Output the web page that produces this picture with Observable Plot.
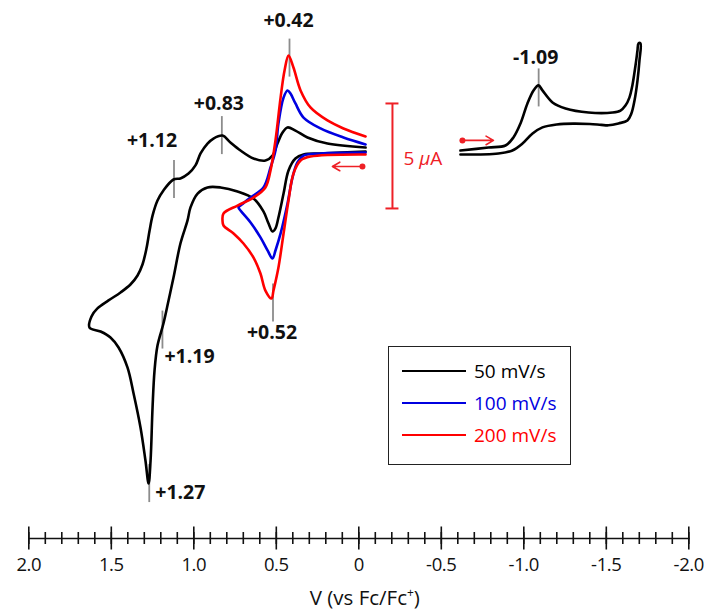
<!DOCTYPE html>
<html><head><meta charset="utf-8">
<script src="https://cdn.jsdelivr.net/npm/d3@7"></script>
<script src="https://cdn.jsdelivr.net/npm/@observablehq/plot@0.6"></script>
<style>
body{margin:0;background:#fff;}
#wrap{position:relative;width:704px;height:615px;font-family:"Open Sans",sans-serif;}
#legend{position:absolute;left:388px;top:346px;width:183px;height:119px;border:1.5px solid #222;box-sizing:border-box;background:#fff;}
.row{position:absolute;left:13px;height:24px;display:flex;align-items:center;font-size:19px;white-space:nowrap;}
.row .sw{display:inline-block;width:64px;height:2px;margin-right:8px;}
.ticklab text{letter-spacing:-0.4px;}
</style></head><body><div id="wrap"></div>
<script>
// ---- data (potential V vs Fc/Fc+, current µA) ----
const seriesNames = ["50 mV/s", "100 mV/s", "200 mV/s"];
const seriesColors = ["#000000", "#0000e0", "#ff0000"];

// 50 mV/s wide scan (0 → +1.63 V → back)
const scan50 = [[-0.041,0.14],[0.190,0.33],[0.311,0.62],[0.384,0.95],[0.432,1.10],[0.462,0.86],[0.493,0.33],[0.523,-0.24],[0.566,-0.48],[0.638,-0.38],[0.717,0],[0.778,0.38],[0.826,0.71],[0.881,0.57],[0.917,0.33],[0.959,-0.14],[0.990,-0.71],[1.032,-1.10],[1.081,-1.33],[1.123,-1.38],[1.184,-1.90],[1.220,-2.38],[1.250,-3.10],[1.268,-3.81],[1.287,-4.67],[1.311,-5.43],[1.341,-5.95],[1.384,-6.38],[1.444,-6.76],[1.517,-7.14],[1.584,-7.52],[1.620,-7.90],[1.632,-8.43],[1.565,-8.62],[1.505,-8.90],[1.456,-9.38],[1.402,-10.33],[1.365,-11.57],[1.323,-13.19],[1.293,-14.76],[1.274,-15.86],[1.262,-14.76],[1.250,-12.24],[1.238,-10.48],[1.220,-9.29],[1.184,-8.24],[1.153,-7.14],[1.123,-6.05],[1.081,-4.43],[1.038,-3.33],[1.020,-2.71],[0.977,-2.05],[0.917,-1.76],[0.838,-1.76],[0.735,-1.95],[0.638,-2.29],[0.578,-2.90],[0.547,-3.48],[0.523,-3.86],[0.505,-3.71],[0.487,-3.19],[0.456,-2.05],[0.426,-0.95],[0.384,-0.38],[0.335,-0.19],[0.232,-0.14],[-0.041,-0.05]];

// 100 mV/s
const scan100 = [[-0.041,0.29],[0.093,0.62],[0.232,1.05],[0.335,1.57],[0.384,2.24],[0.414,2.71],[0.432,2.86],[0.456,2.52],[0.487,1.29],[0.505,0],[0.535,-0.81],[0.578,-1.76],[0.656,-2.24],[0.717,-2.62],[0.729,-2.71],[0.717,-2.86],[0.656,-3.43],[0.596,-4.14],[0.553,-4.76],[0.523,-5.14],[0.505,-4.76],[0.474,-3.95],[0.432,-2.52],[0.402,-1.29],[0.372,-0.57],[0.335,-0.24],[0.232,-0.14],[-0.041,-0.10]];

// 200 mV/s
const scan200 = [[-0.041,0.67],[0.093,1.05],[0.190,1.43],[0.293,2.05],[0.353,2.86],[0.396,3.95],[0.426,4.52],[0.450,3.81],[0.474,2.52],[0.505,0.48],[0.535,-0.95],[0.566,-1.76],[0.638,-2.24],[0.735,-2.62],[0.820,-3.00],[0.826,-3.33],[0.820,-3.57],[0.759,-3.95],[0.699,-4.43],[0.638,-5.10],[0.596,-5.86],[0.566,-6.67],[0.529,-7.05],[0.517,-6.67],[0.487,-5.57],[0.456,-3.95],[0.426,-2.38],[0.396,-1.10],[0.353,-0.48],[0.293,-0.29],[-0.041,-0.19]];

// cathodic scan, 50 mV/s (-0.62 → -1.70 V → back)
const scanNeg = [[-0.616,0],[-0.786,0.14],[-0.889,0.24],[-0.937,0.62],[-0.980,1.29],[-1.022,2.24],[-1.059,2.86],[-1.089,3.10],[-1.113,2.86],[-1.174,2.29],[-1.253,2.00],[-1.392,1.81],[-1.538,1.81],[-1.586,1.90],[-1.616,2.14],[-1.640,2.52],[-1.658,3.10],[-1.677,4.05],[-1.689,4.76],[-1.695,5.10],[-1.707,5.10],[-1.701,4.29],[-1.689,3.33],[-1.671,2.38],[-1.652,1.76],[-1.628,1.43],[-1.574,1.29],[-1.513,1.20],[-1.470,1.22],[-1.400,1.26],[-1.300,1.28],[-1.200,1.24],[-1.113,1.10],[-1.053,0.81],[-0.992,0.33],[-0.931,0],[-0.846,-0.14],[-0.616,-0.19]];

// peak annotations: label, potential, current at marker
const peakLabels = ["+0.42", "+0.83", "+1.12", "+1.19", "+1.27", "+0.52", "-1.09"];
const peakV = [0.42, 0.83, 1.12, 1.19, 1.27, 0.52, -1.09];
const peakI = [4.40, 0.71, -1.38, -8.55, -15.86, -7.26, 2.98];

// scale bar (5 µA) and scan-direction arrows
const scaleBarV = -0.204;
const scaleBarI = [-2.76, 2.24];
const scaleBarText = "5 μA";
const arrowsData = [
  {x1: -0.022, y1: -0.76, x2: 0.160, y2: -0.76},
  {x1: -0.628, y1: 0.48, x2: -0.816, y2: 0.48}
];

const majorTicks = [2.0, 1.5, 1.0, 0.5, 0, -0.5, -1.0, -1.5, -2.0];
const tickLabels = ["2.0", "1.5", "1.0", "0.5", "0", "-0.5", "-1.0", "-1.5", "-2.0"];
const minorTicks = d3.range(-20, 21).map(k => k / 10);
const xTitle = "V (vs Fc/Fc+)";

// ---- layout ----
const yDomain = [-18.476, 7.143];
const yMin = yDomain[0];
const labelLayout = [
  {dx: -1, dy: -37, anchor: "middle"},
  {dx: -3, dy: -32, anchor: "middle"},
  {dx: -22, dy: -39, anchor: "middle"},
  {dx: 2, dy: 27, anchor: "start"},
  {dx: 6, dy: 9, anchor: "start"},
  {dx: -1, dy: 30, anchor: "middle"},
  {dx: -3, dy: -30, anchor: "middle"}
];
const toRows = (arr) => arr.map(([v, i]) => ({v, i}));
const peaks = peakLabels.map((t, k) => ({text: t, v: peakV[k], i: peakI[k]}));
const RED = "#ee2026";
const font = "Open Sans, sans-serif";

const lineOpts = (c) => ({x: "v", y: "i", stroke: c, strokeWidth: 2.6, curve: "catmull-rom", strokeLinejoin: "round"});

const chart = Plot.plot({
  width: 704, height: 615,
  marginLeft: 28.3, marginRight: 15.7, marginTop: 0, marginBottom: 77,
  x: {domain: [2, -2], axis: null},
  y: {domain: yDomain, axis: null},
  style: {fontFamily: font, background: "#fff"},
  marks: [
    Plot.frame({anchor: "bottom", stroke: "#111", strokeWidth: 1.6}),
    Plot.ruleX(minorTicks, {x: d => d, y1: yMin, y2: yMin, insetTop: -6, insetBottom: -6, stroke: "#111", strokeWidth: 1.6}),
    Plot.ruleX(majorTicks, {x: d => d, y1: yMin, y2: yMin, insetTop: -11.5, insetBottom: -11.5, stroke: "#111", strokeWidth: 1.6}),
    Plot.text(majorTicks, {x: d => d, y: yMin, text: (d, k) => tickLabels[k], dy: 27, fontSize: 18.5, fill: "#111", className: "ticklab"}),
    Plot.text([xTitle], {frameAnchor: "bottom", text: d => d, dy: 66, dx: 6, fontSize: 20.5, fill: "#111", className: "xtitle"}),
    // gray peak markers
    Plot.ruleX(peaks, {x: "v", y1: "i", y2: "i", insetTop: -19, insetBottom: -19, stroke: "#8c8c8c", strokeWidth: 1.8}),
    // curves
    Plot.line(toRows(scan50), lineOpts(seriesColors[0])),
    Plot.line(toRows(scan100), lineOpts(seriesColors[1])),
    Plot.line(toRows(scan200), lineOpts(seriesColors[2])),
    Plot.line(toRows(scanNeg), lineOpts(seriesColors[0])),
    // peak labels
    ...peaks.map((p, k) => Plot.text([p], {x: "v", y: "i", text: "text", dx: labelLayout[k].dx, dy: labelLayout[k].dy, textAnchor: labelLayout[k].anchor, fontWeight: "bold", fontSize: 19.5, fill: "#111"})),
    // scale bar
    Plot.ruleX([scaleBarV], {x: d => d, y1: scaleBarI[0], y2: scaleBarI[1], stroke: RED, strokeWidth: 2}),
    Plot.ruleY(scaleBarI, {y: d => d, x1: scaleBarV, x2: scaleBarV, insetLeft: -6.5, insetRight: -6.5, stroke: RED, strokeWidth: 2}),
    Plot.text([scaleBarText], {x: scaleBarV, y: d3.mean(scaleBarI), text: d => d, dx: 11, dy: 2.5, textAnchor: "start", fontSize: 19, fill: RED, className: "unit"}),
    // arrows
    Plot.arrow(arrowsData, {x1: "x1", y1: "y1", x2: "x2", y2: "y2", stroke: RED, strokeWidth: 1.6, headLength: 8}),
    Plot.dot(arrowsData, {x: "x1", y: "y1", r: 3, fill: RED, stroke: null})
  ]
});

const wrap = document.getElementById("wrap");
wrap.appendChild(chart);

// italic µ and superscript +
const u = chart.querySelector(".unit text");
if (u) u.innerHTML = '5 <tspan font-style="italic">μ</tspan>A';
const t = chart.querySelector(".xtitle text");
if (t) t.innerHTML = 'V (vs Fc/Fc<tspan baseline-shift="super" font-size="12">+</tspan>)';

// legend
const legend = document.createElement("div");
legend.id = "legend";
seriesNames.forEach((name, k) => {
  const row = document.createElement("div");
  row.className = "row";
  row.style.top = (12 + 32 * k) + "px";
  row.style.color = seriesColors[k];
  row.innerHTML = `<span class="sw" style="background:${seriesColors[k]}"></span><span>${name}</span>`;
  legend.appendChild(row);
});
wrap.appendChild(legend);
</script></body></html>
